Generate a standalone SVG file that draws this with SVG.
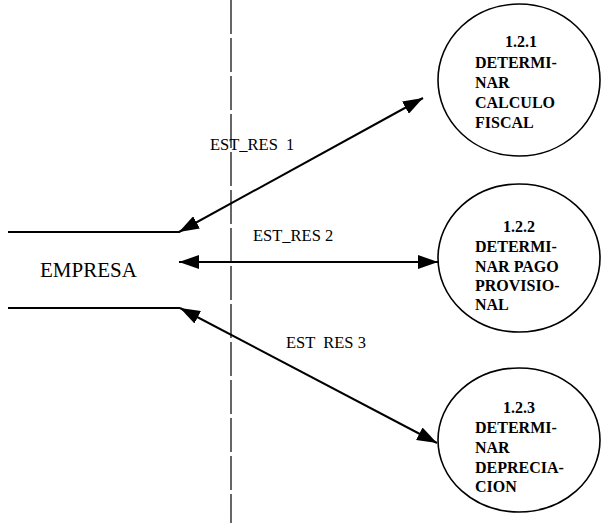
<svg xmlns="http://www.w3.org/2000/svg" width="601" height="523" viewBox="0 0 601 523">
<style>
.bg{fill:#ffffff}
.proc{fill:none;stroke:#000;stroke-width:1.6}
.store{stroke:#000;stroke-width:2}
.flow{stroke:#000;stroke-width:2;fill:none;marker-start:url(#ah);marker-end:url(#ah)}
.bound{stroke:#000;stroke-width:1.2;stroke-dasharray:34 4}
.pt{font-family:"Liberation Serif","Times New Roman",serif;font-size:16px;font-weight:bold;fill:#000}
.lbl{font-family:"Liberation Serif","Times New Roman",serif;font-size:16.5px;fill:#000}
.ent{font-family:"Liberation Serif","Times New Roman",serif;font-size:21px;fill:#000}
</style>
<defs>
<marker id="ah" viewBox="0 0 20 14" refX="20" refY="7" markerWidth="20" markerHeight="14" markerUnits="userSpaceOnUse" orient="auto-start-reverse">
<path d="M0,0 L20,7 L0,14 Z" fill="#000"/>
</marker>
</defs>
<rect class="bg" x="0" y="0" width="601" height="523"/>
<line id="boundary" class="bound" x1="231" y1="0" x2="231" y2="523"/>
<g id="empresa">
<line class="store" x1="8" y1="232" x2="180" y2="232"/>
<line class="store" x1="8" y1="308" x2="180" y2="308"/>
<text class="ent" x="40" y="277">EMPRESA</text>
</g>
<g id="p121">
<ellipse class="proc" cx="519" cy="80" rx="81" ry="76"/>
<text class="pt" x="505" y="47">1.2.1</text>
<text class="pt" x="475" y="68">DETERMI-</text>
<text class="pt" x="475" y="88">NAR</text>
<text class="pt" x="475" y="108">CALCULO</text>
<text class="pt" x="475" y="128">FISCAL</text>
</g>
<g id="p122">
<ellipse class="proc" cx="519" cy="258" rx="81" ry="74"/>
<text class="pt" x="503" y="232">1.2.2</text>
<text class="pt" x="475" y="252">DETERMI-</text>
<text class="pt" x="475" y="272">NAR PAGO</text>
<text class="pt" x="475" y="291">PROVISIO-</text>
<text class="pt" x="475" y="310">NAL</text>
</g>
<g id="p123">
<ellipse class="proc" cx="519" cy="440" rx="81" ry="72"/>
<text class="pt" x="503" y="413">1.2.3</text>
<text class="pt" x="475" y="433">DETERMI-</text>
<text class="pt" x="475" y="453">NAR</text>
<text class="pt" x="475" y="473">DEPRECIA-</text>
<text class="pt" x="475" y="492">CION</text>
</g>
<g id="connectors">
<line class="flow" x1="179" y1="232" x2="423" y2="98"/>
<line class="flow" x1="179" y1="262" x2="438" y2="262"/>
<line class="flow" x1="180" y1="308" x2="437" y2="443"/>
<text class="lbl" x="210" y="150" xml:space="preserve">EST_RES  1</text>
<text class="lbl" x="253" y="241">EST_RES 2</text>
<text class="lbl" x="286" y="348" xml:space="preserve">EST  RES 3</text>
</g>
</svg>
